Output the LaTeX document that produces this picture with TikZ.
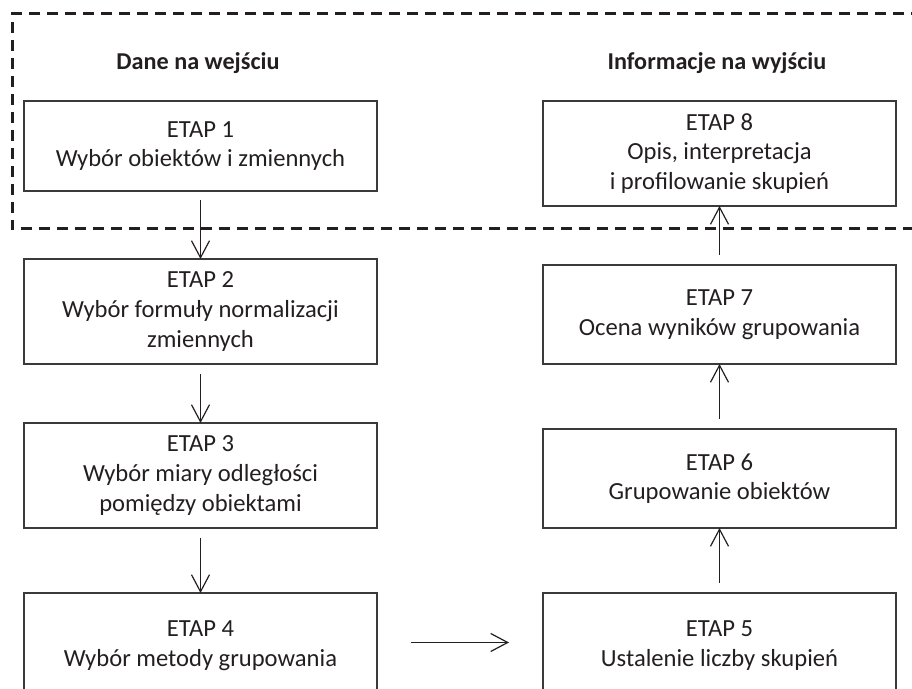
\documentclass[tikz,border=0pt]{standalone}
\usepackage{fontspec}
\setmainfont{Carlito}
\usetikzlibrary{arrows.meta}
\definecolor{ink}{HTML}{231F20}
\definecolor{frame}{HTML}{3A3A3A}
\begin{document}
\begin{tikzpicture}[x=0.5pt,y=-0.5pt,
  txt/.style={font=\fontsize{12.3pt}{14.8pt}\selectfont, text=ink},
  stage/.style={txt, draw=frame, line width=0.85pt, align=center,
    inner sep=0pt, outer sep=0pt, minimum width=176.5pt},
  head/.style={txt, font=\fontsize{12.1pt}{14.8pt}\selectfont\bfseries},
  flow/.style={draw=ink, line width=0.6pt,
    -{Straight Barb[length=8.5pt,width=9pt,line width=0.6pt]}},
  zone/.style={draw=ink, line width=1.5pt, dash pattern=on 5.5pt off 3.5pt}
]
\useasboundingbox (0,0) rectangle (912,689);
\clip (0,0) rectangle (912,689);

% input / output zone
\draw[zone] (940,14) -- (12,14) -- (12,229) -- (940,229);

\node[head] (hin)  at (198,63) {Dane na wejściu};
\node[head] (hout) at (717,63) {Informacje na wyjściu};

% left column
\node[stage, minimum height=45pt]   (e1) at (200.5,146)   {ETAP 1\\Wybór obiektów i zmiennych};
\node[stage, minimum height=52.5pt] (e2) at (200.5,311.5) {ETAP 2\\Wybór formuły normalizacji\\zmiennych};
\node[stage, minimum height=52.5pt] (e3) at (200.5,475.5) {ETAP 3\\Wybór miary odległości\\pomiędzy obiektami};
\node[stage, minimum height=52.5pt] (e4) at (200.5,645.5) {ETAP 4\\Wybór metody grupowania};

% right column
\node[stage, minimum height=52.5pt] (e5) at (719.5,645.5) {ETAP 5\\Ustalenie liczby skupień};
\node[stage, minimum height=49.5pt] (e6) at (719.5,478.5) {ETAP 6\\Grupowanie obiektów};
\node[stage, minimum height=49.5pt] (e7) at (719.5,314.5) {ETAP 7\\Ocena wyników grupowania};
\node[stage, minimum height=52.5pt] (e8) at (719.5,153.5) {ETAP 8\\Opis, interpretacja\\i profilowanie skupień};

% connectors
\draw[flow] ([yshift=-4.5pt]e1.south) -- (e2.north);
\draw[flow] ([yshift=-5pt]e2.south) -- (e3.north);
\draw[flow] ([yshift=-5pt]e3.south) -- (e4.north);
\draw[flow, shorten <=17pt, shorten >=17pt] (e4.east |- 0,642.5) -- (e5.west |- 0,642.5);
\draw[flow] ([yshift=5pt]e5.north) -- (e6.south);
\draw[flow] ([yshift=5pt]e6.north) -- (e7.south);
\draw[flow] ([yshift=5pt]e7.north) -- (e8.south);
\end{tikzpicture}
\end{document}
